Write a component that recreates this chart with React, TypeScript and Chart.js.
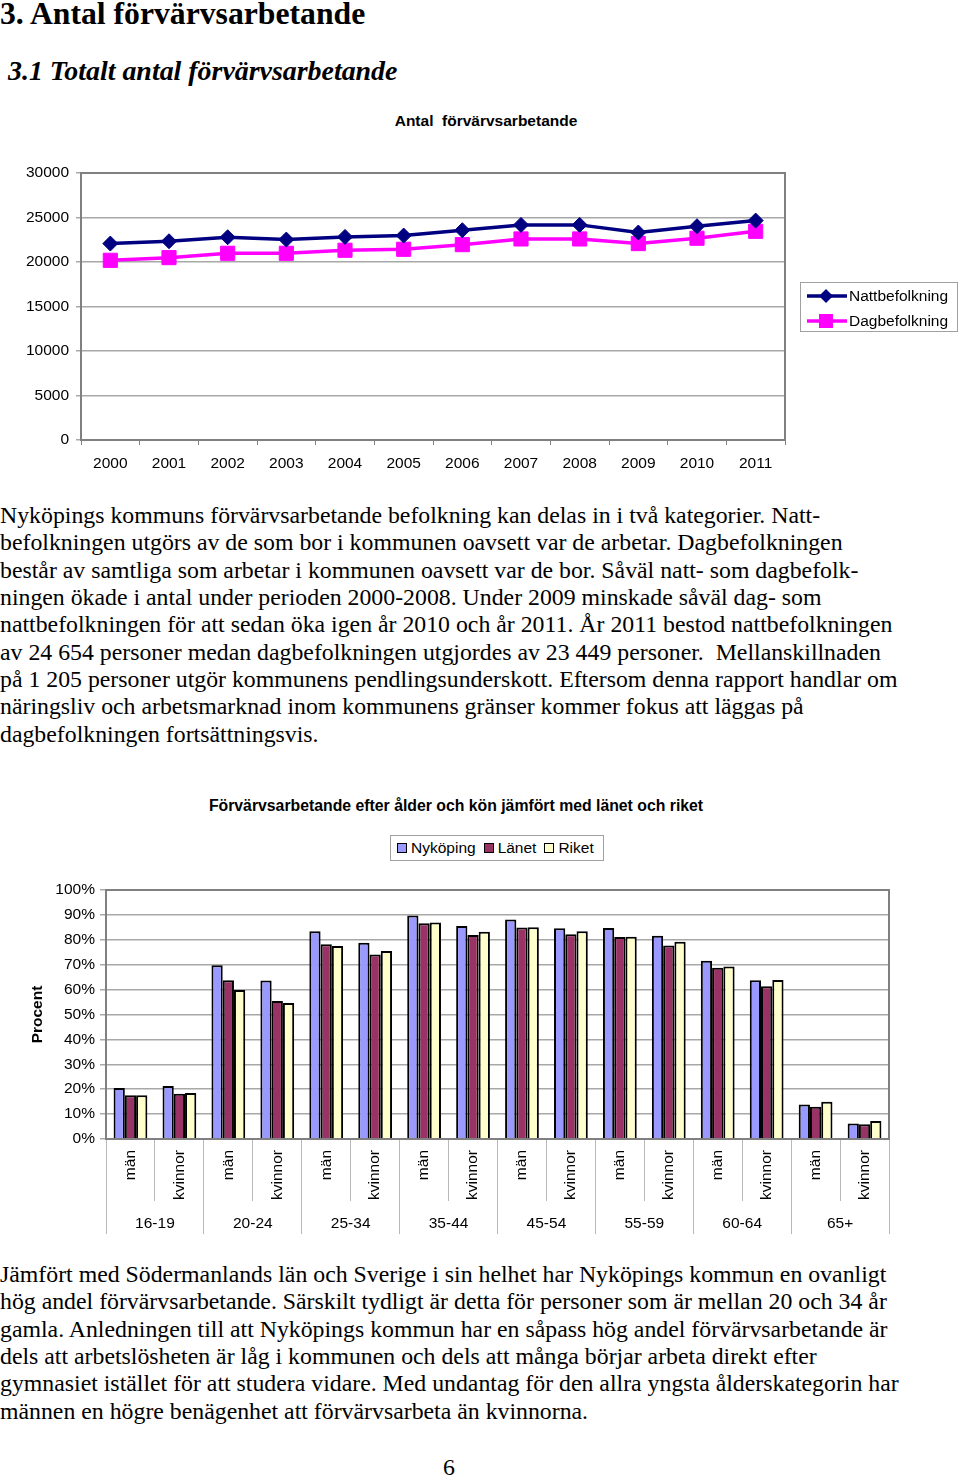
import React, { useEffect, useRef } from 'react';
import { Chart, registerables } from 'chart.js';

Chart.register(...registerables);

const years = ['2000', '2001', '2002', '2003', '2004', '2005', '2006', '2007', '2008', '2009', '2010', '2011'];
const nattbefolkning = [22070, 22330, 22780, 22520, 22820, 22970, 23570, 24170, 24170, 23310, 24020, 24654];
const dagbefolkning = [20190, 20490, 20980, 20980, 21320, 21430, 21950, 22590, 22590, 22070, 22670, 23449];

const genderLabels = ['män', 'kvinnor', 'män', 'kvinnor', 'män', 'kvinnor', 'män', 'kvinnor', 'män', 'kvinnor', 'män', 'kvinnor', 'män', 'kvinnor', 'män', 'kvinnor'];
const ageGroups = ['16-19', '20-24', '25-34', '35-44', '45-54', '55-59', '60-64', '65+'];
const nykoping = [20.5, 21.3, 69.8, 63.7, 83.4, 78.8, 89.8, 85.5, 88.2, 84.6, 84.7, 81.6, 71.6, 63.8, 13.9, 6.2];
const lanet = [17.6, 18.2, 63.8, 55.4, 78.2, 74.1, 86.6, 81.9, 84.9, 82.2, 81.1, 77.7, 68.8, 61.3, 13.0, 5.9];
const riket = [17.6, 18.5, 59.8, 54.6, 77.5, 75.5, 86.9, 83.2, 85.0, 83.4, 81.2, 79.2, 69.3, 63.9, 15.0, 7.2];

const para1 = [
  'Nyköpings kommuns förvärvsarbetande befolkning kan delas in i två kategorier. Natt-',
  'befolkningen utgörs av de som bor i kommunen oavsett var de arbetar. Dagbefolkningen',
  'består av samtliga som arbetar i kommunen oavsett var de bor. Såväl natt- som dagbefolk-',
  'ningen ökade i antal under perioden 2000-2008. Under 2009 minskade såväl dag- som',
  'nattbefolkningen för att sedan öka igen år 2010 och år 2011. År 2011 bestod nattbefolkningen',
  'av 24 654 personer medan dagbefolkningen utgjordes av 23 449 personer.  Mellanskillnaden',
  'på 1 205 personer utgör kommunens pendlingsunderskott. Eftersom denna rapport handlar om',
  'näringsliv och arbetsmarknad inom kommunens gränser kommer fokus att läggas på',
  'dagbefolkningen fortsättningsvis.',
];
const para2 = [
  'Jämfört med Södermanlands län och Sverige i sin helhet har Nyköpings kommun en ovanligt',
  'hög andel förvärvsarbetande. Särskilt tydligt är detta för personer som är mellan 20 och 34 år',
  'gamla. Anledningen till att Nyköpings kommun har en såpass hög andel förvärvsarbetande är',
  'dels att arbetslösheten är låg i kommunen och dels att många börjar arbeta direkt efter',
  'gymnasiet istället för att studera vidare. Med undantag för den allra yngsta ålderskategorin har',
  'männen en högre benägenhet att förvärvsarbeta än kvinnorna.',
];

const SANS = '"Liberation Sans", Arial, sans-serif';
const SERIF = '"Liberation Serif", "Times New Roman", serif';
const FS = 15.5;

const frame = {
  id: 'frame',
  afterDraw(chart: any) {
    const { ctx, chartArea } = chart;
    ctx.save();
    ctx.strokeStyle = '#808080';
    ctx.lineWidth = 2;
    ctx.strokeRect(chartArea.left, chartArea.top, chartArea.right - chartArea.left, chartArea.bottom - chartArea.top);
    ctx.restore();
  },
};

function LineChart() {
  const ref = useRef<HTMLCanvasElement>(null);
  useEffect(() => {
    const chart = new Chart(ref.current!, {
      type: 'line',
      data: {
        labels: years,
        datasets: [
          {
            label: 'Nattbefolkning',
            data: nattbefolkning,
            borderColor: '#000080',
            backgroundColor: '#000080',
            borderWidth: 3.5,
            pointStyle: 'rectRot',
            pointRadius: 7.5,
            pointBorderWidth: 1,
            tension: 0,
          },
          {
            label: 'Dagbefolkning',
            data: dagbefolkning,
            borderColor: '#FF00FF',
            backgroundColor: '#FF00FF',
            borderWidth: 3.5,
            pointStyle: 'rect',
            pointRadius: 10,
            pointBorderWidth: 1,
            tension: 0,
          },
        ],
      },
      options: {
        responsive: false,
        animation: false,
        devicePixelRatio: 1,
        layout: { padding: { left: 0, top: 73, right: 175, bottom: 0 } },
        plugins: { legend: { display: false }, tooltip: { enabled: false } },
        scales: {
          x: {
            offset: true,
            grid: { offset: true, drawOnChartArea: false, tickLength: 5, color: '#808080' },
            border: { color: '#808080', width: 2 },
            ticks: { color: '#000', font: { family: SANS, size: FS }, padding: 9, maxRotation: 0 },
            afterFit: (s: any) => { s.height = 40; },
          },
          y: {
            min: 0,
            max: 30000,
            ticks: { stepSize: 5000, color: '#000', font: { family: SANS, size: FS }, padding: 7, callback: (v: any) => String(v) },
            grid: { color: '#A8A8A8', tickLength: 5, lineWidth: 1.5 },
            border: { color: '#808080', width: 2 },
            afterFit: (s: any) => { s.width = 81; },
          },
        },
      },
      plugins: [frame],
    });
    return () => chart.destroy();
  }, []);
  return <canvas ref={ref} width={960} height={380} style={{ position: 'absolute', left: 0, top: 100, width: 960, height: 380 }} />;
}

function BarChart() {
  const ref = useRef<HTMLCanvasElement>(null);
  useEffect(() => {
    const common = { borderColor: '#000', borderWidth: 2, categoryPercentage: 0.69, barPercentage: 1.0 };
    const chart = new Chart(ref.current!, {
      type: 'bar',
      data: {
        labels: genderLabels,
        datasets: [
          { label: 'Nyköping', data: nykoping, backgroundColor: '#9999FF', ...common },
          { label: 'Länet', data: lanet, backgroundColor: '#993366', ...common },
          { label: 'Riket', data: riket, backgroundColor: '#FFFFCC', ...common },
        ],
      },
      options: {
        responsive: false,
        animation: false,
        devicePixelRatio: 1,
        layout: { padding: { left: 24, top: 20, right: 71, bottom: 14 } },
        plugins: { legend: { display: false }, tooltip: { enabled: false } },
        scales: {
          x: {
            offset: true,
            weight: 0,
            grid: { offset: true, drawOnChartArea: false, tickLength: 62, color: '#B8B8B8' },
            border: { color: '#808080', width: 2 },
            ticks: { color: '#000', font: { family: SANS, size: FS }, minRotation: 90, maxRotation: 90, autoSkip: false, padding: -51 },
            afterFit: (s: any) => { s.height = 62; },
          },
          x2: {
            type: 'category',
            position: 'bottom',
            labels: ageGroups,
            offset: true,
            weight: 1,
            grid: { offset: true, drawOnChartArea: false, tickLength: 33, color: '#B8B8B8' },
            border: { display: false },
            ticks: { color: '#000', font: { family: SANS, size: FS }, maxRotation: 0, autoSkip: false, padding: -20 },
            afterFit: (s: any) => { s.height = 35; },
          },
          y: {
            min: 0,
            max: 100,
            ticks: { stepSize: 10, color: '#000', font: { family: SANS, size: FS }, padding: 5, callback: (v: any) => v + '%' },
            grid: { color: '#A8A8A8', tickLength: 6, lineWidth: 1.5 },
            border: { color: '#808080', width: 2 },
            title: { display: true, text: 'Procent', color: '#000', font: { family: SANS, size: FS, weight: 'bold' } },
            afterFit: (s: any) => { s.width = 82; },
          },
        },
      },
      plugins: [frame],
    });
    return () => chart.destroy();
  }, []);
  return <canvas ref={ref} width={960} height={380} style={{ position: 'absolute', left: 0, top: 870, width: 960, height: 380 }} />;
}

const abs = (o: any) => ({ position: 'absolute' as const, ...o });

function Para({ lines, top }: { lines: string[]; top: number }) {
  return (
    <div style={abs({ left: 0, top, fontFamily: SERIF, fontSize: 23.8, lineHeight: '27.35px', color: '#000' })}>
      {lines.map((l, i) => (
        <div key={i} style={{ whiteSpace: 'pre' }}>{l}</div>
      ))}
    </div>
  );
}

function Swatch({ color }: { color: string }) {
  return <span style={{ display: 'inline-block', width: 8, height: 8, background: color, border: '1.5px solid #000', marginRight: 4 }} />;
}

export default function App() {
  return (
    <div style={abs({ left: 0, top: 0, width: 960, height: 1478, background: '#fff', overflow: 'hidden' })}>
      <div style={abs({ left: 0, top: -3, fontFamily: SERIF, fontSize: 31.7, fontWeight: 'bold', lineHeight: '34px', whiteSpace: 'pre' })}>3. Antal förvärvsarbetande</div>
      <div style={abs({ left: 8, top: 55, fontFamily: SERIF, fontSize: 27.9, fontWeight: 'bold', fontStyle: 'italic', lineHeight: '32px', whiteSpace: 'pre' })}>3.1 Totalt antal förvärvsarbetande</div>

      <div style={abs({ left: 286, width: 400, top: 112, textAlign: 'center', fontFamily: SANS, fontSize: FS, fontWeight: 'bold', lineHeight: '18px', whiteSpace: 'pre' })}>Antal  förvärvsarbetande</div>
      <LineChart />
      <div style={abs({ left: 800, top: 282, width: 156, height: 48, border: '1px solid #A0A0A0', fontFamily: SANS, fontSize: FS })}>
        {[
          { label: 'Nattbefolkning', color: '#000080', shape: 'diamond' },
          { label: 'Dagbefolkning', color: '#FF00FF', shape: 'square' },
        ].map((it, i) => (
          <div key={i} style={abs({ left: 4, top: 3 + i * 25, height: 20, display: 'flex', alignItems: 'center', whiteSpace: 'pre' })}>
            <svg width={44} height={20} style={{ display: 'block' }}>
              <line x1={2} y1={10} x2={42} y2={10} stroke={it.color} strokeWidth={3.5} />
              {it.shape === 'diamond' ? (
                <polygon points="21,3 28,10 21,17 14,10" fill={it.color} />
              ) : (
                <rect x={14} y={3} width={14} height={14} fill={it.color} />
              )}
            </svg>
            <span>{it.label}</span>
          </div>
        ))}
      </div>

      <Para lines={para1} top={502} />

      <div style={abs({ left: 156, width: 600, top: 797, textAlign: 'center', fontFamily: SANS, fontSize: 15.8, fontWeight: 'bold', lineHeight: '18px', whiteSpace: 'pre' })}>Förvärvsarbetande efter ålder och kön jämfört med länet och riket</div>
      <div style={abs({ left: 390, top: 835, width: 214, height: 26, border: '1px solid #A0A0A0', display: 'flex', alignItems: 'center', paddingLeft: 6, boxSizing: 'border-box', fontFamily: SANS, fontSize: FS, whiteSpace: 'pre' })}>
        <Swatch color="#9999FF" /><span style={{ marginRight: 8 }}>Nyköping</span>
        <Swatch color="#993366" /><span style={{ marginRight: 8 }}>Länet</span>
        <Swatch color="#FFFFCC" /><span>Riket</span>
      </div>
      <BarChart />

      <Para lines={para2} top={1261} />
      <div style={abs({ left: 443, top: 1454, fontFamily: SERIF, fontSize: 23.8, lineHeight: '27px' })}>6</div>
    </div>
  );
}
